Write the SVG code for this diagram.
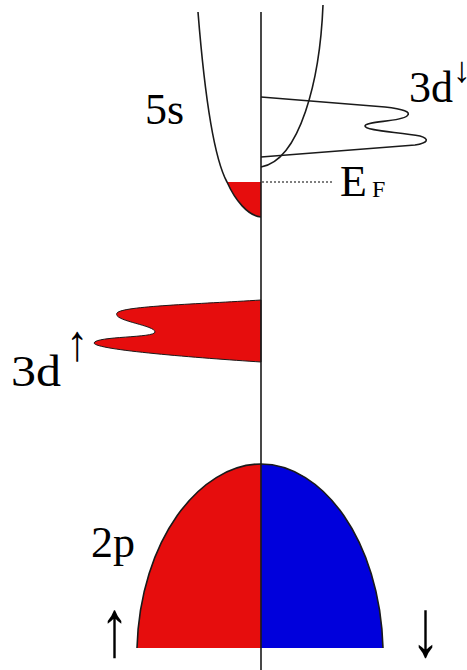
<svg xmlns="http://www.w3.org/2000/svg" width="467" height="670" viewBox="0 0 467 670">
<style>
.lbl{font-family:"Liberation Serif","Times New Roman",serif;font-size:44px;fill:#000}
.sub{font-family:"Liberation Serif","Times New Roman",serif;font-size:24px;fill:#000}
.arr{font-family:"Liberation Serif","Times New Roman",serif;fill:#000}
.curve{fill:none;stroke:#1a1a1a;stroke-width:1.6}
.red{fill:#e60d0d}
.blue{fill:#0000dc}
</style>
<rect width="467" height="670" fill="#fff"/>
<g id="band-2p">
<path class="red" d="M137,648 C 140,540 200,464 261,464 L261,648 Z"/>
<path class="blue" d="M261,464 C 322,464 380,540 383,648 L261,648 Z"/>
<path class="curve" d="M137,648 C 140,540 200,464 261,464 C 322,464 380,540 383,648"/>
</g>
<g id="band-3d-up">
<path class="red" stroke="#1a1a1a" stroke-width="1" d="M261,300 C 200,304 122,306 117,313 C 112,321 155,325 155,332 C 155,338 96,336 94,343 C 95,350 200,358 261,362 Z"/>
</g>
<g id="band-5s">
<path class="red" d="M227,182 C 235,200 248,216 261,217 L261,182 Z"/>
<path class="curve" d="M198,12 C 205,100 215,160 227,182 C 235,200 248,216 261,217"/>
<path class="curve" d="M261,167 C 300,160 320,80 323,5"/>
</g>
<g id="band-3d-down">
<path class="curve" d="M261,97 L385,107 C 403,109 412,112 407,116 C 400,122 365,121 365,126 C 365,131 400,132 420,136 C 430,139 428,143 415,145 L261,157"/>
</g>
<g id="fermi">
<line x1="262" y1="182" x2="333" y2="182" stroke="#000" stroke-width="1.2" stroke-dasharray="2,2"/>
</g>
<g id="axis">
<line x1="261" y1="12" x2="261" y2="670" stroke="#1a1a1a" stroke-width="1.6"/>
</g>
<g id="labels">
<text class="lbl" x="145" y="124">5s</text>
<text class="lbl" x="409" y="102">3d</text>
<text class="arr" font-size="36" transform="translate(453,82)">↓</text>
<text class="lbl" x="340" y="196">E</text>
<text class="sub" x="372" y="197">F</text>
<text class="lbl" x="11" y="386" textLength="50" lengthAdjust="spacingAndGlyphs">3d</text>
<text class="arr" font-size="44" transform="translate(66,360) scale(1,1.15)">↑</text>
<text class="lbl" x="91" y="557">2p</text>
<text class="arr" font-size="58" transform="translate(100,656) scale(1,1.4)">↑</text>
<text class="arr" font-size="58" transform="translate(411,656) scale(1,1.4)">↓</text>
</g>
</svg>
